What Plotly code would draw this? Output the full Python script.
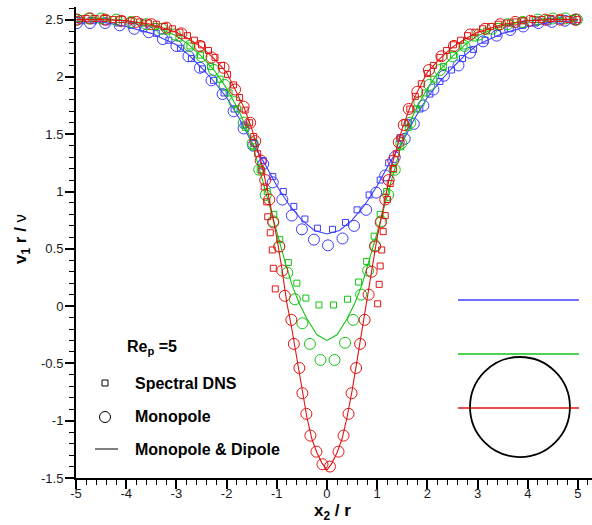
import plotly.graph_objects as go

# ---------------------------------------------------------------------------
# Axial velocity v1 r / nu along lines x2 / r, Re_p = 5
# blue: line far above the particle, green: tangent line, red: through centre
# ---------------------------------------------------------------------------

# Spectral DNS (squares)
blue_dns_x = [-4.90, -4.65, -4.40, -4.15, -3.90, -3.65, -3.40, -3.15, -2.92, -2.70,
              -2.48, -2.26, -2.05, -1.85, -1.65, -1.45, -1.27, -1.08, -0.87, -0.66,
              -0.44, -0.19, 0.11, 0.37, 0.60, 0.84, 1.06, 1.23, 1.45, 1.62,
              1.85, 2.05, 2.25, 2.48, 2.70, 2.92, 3.15, 3.40, 3.65, 3.90,
              4.15, 4.40, 4.65, 4.90]
blue_dns_y = [2.49, 2.49, 2.48, 2.47, 2.45, 2.42, 2.38, 2.32, 2.25, 2.16,
              2.07, 1.97, 1.86, 1.72, 1.58, 1.42, 1.27, 1.13, 1.00, 0.87,
              0.76, 0.68, 0.67, 0.73, 0.84, 0.97, 1.10, 1.25, 1.46, 1.60,
              1.72, 1.85, 1.96, 2.06, 2.16, 2.24, 2.32, 2.38, 2.42, 2.45,
              2.47, 2.48, 2.49, 2.49]

green_dns_x = [-4.90, -4.65, -4.40, -4.15, -3.90, -3.66, -3.42, -3.18, -2.95, -2.73,
               -2.52, -2.32, -2.13, -1.95, -1.78, -1.62, -1.47, -1.33, -1.19, -1.06,
               -0.94, -0.77, -0.60, -0.42, -0.16, 0.13, 0.41, 0.63, 0.79, 0.94,
               1.06, 1.19, 1.33, 1.47, 1.62, 1.78, 1.95, 2.13, 2.32, 2.52,
               2.73, 2.95, 3.18, 3.42, 3.66, 3.90, 4.15, 4.40, 4.65, 4.90]
green_dns_y = [2.51, 2.51, 2.51, 2.50, 2.49, 2.47, 2.44, 2.40, 2.34, 2.27,
               2.19, 2.09, 1.98, 1.86, 1.72, 1.56, 1.39, 1.19, 1.00, 0.80,
               0.58, 0.38, 0.20, 0.07, 0.01, 0.01, 0.06, 0.21, 0.39, 0.61,
               0.80, 1.00, 1.19, 1.39, 1.56, 1.72, 1.86, 1.98, 2.09, 2.19,
               2.27, 2.34, 2.40, 2.44, 2.47, 2.49, 2.50, 2.51, 2.51, 2.51]

red_dns_x = [-4.98, -4.80, -4.62, -4.44, -4.26, -4.08, -3.90, -3.73, -3.56, -3.40,
             -3.24, -3.08, -2.93, -2.78, -2.64, -2.50, -2.36, -2.23, -2.10, -1.98,
             -1.86, -1.74, -1.63, -1.54, -1.46, -1.38, -1.30, -1.25, -1.20, -1.18,
             -1.13, -1.09, -1.07, -1.03,
             1.01, 1.04, 1.06, 1.09, 1.12, 1.16, 1.20, 1.26, 1.32, 1.38,
             1.46, 1.55, 1.65, 1.76, 1.88, 2.00, 2.12, 2.25, 2.38, 2.52,
             2.66, 2.80, 2.95, 3.10, 3.26, 3.42, 3.58, 3.75, 3.92, 4.10,
             4.28, 4.46, 4.64, 4.82, 4.98]
red_dns_y = [2.50, 2.51, 2.51, 2.51, 2.50, 2.50, 2.49, 2.48, 2.47, 2.46,
             2.44, 2.42, 2.39, 2.36, 2.32, 2.28, 2.23, 2.17, 2.10, 2.02,
             1.93, 1.82, 1.71, 1.60, 1.48, 1.33, 1.18, 1.04, 0.91, 0.78,
             0.64, 0.49, 0.33, 0.15,
             0.02, 0.19, 0.35, 0.49, 0.65, 0.79, 0.93, 1.07, 1.20, 1.33,
             1.47, 1.60, 1.72, 1.83, 1.94, 2.03, 2.10, 2.17, 2.23, 2.28,
             2.32, 2.36, 2.39, 2.42, 2.44, 2.46, 2.47, 2.48, 2.49, 2.50,
             2.50, 2.51, 2.51, 2.50, 2.50]

# Monopole (circles)
blue_mono_x = [-4.98, -4.72, -4.42, -4.13, -3.84, -3.55, -3.27, -3.00, -2.76, -2.53,
               -2.30, -2.08, -1.86, -1.66, -1.47, -1.27, -1.08, -0.89, -0.70, -0.50,
               -0.26, 0.02, 0.31, 0.54, 0.78, 0.98, 1.16, 1.35, 1.55, 1.73,
               1.92, 2.12, 2.33, 2.62, 2.85, 3.11, 3.38, 3.65, 3.91, 4.21,
               4.48, 4.74, 4.95]
blue_mono_y = [2.47, 2.47, 2.47, 2.45, 2.42, 2.39, 2.33, 2.27, 2.18, 2.08,
               1.97, 1.85, 1.70, 1.55, 1.40, 1.24, 1.08, 0.93, 0.79, 0.67,
               0.58, 0.53, 0.59, 0.70, 0.84, 0.99, 1.14, 1.30, 1.46, 1.59,
               1.75, 1.89, 2.01, 2.10, 2.21, 2.31, 2.36, 2.41, 2.44, 2.47,
               2.48, 2.49, 2.50]

green_mono_x = [-4.98, -4.75, -4.50, -4.20, -3.90, -3.60, -3.29, -3.03, -2.74, -2.50,
                -2.25, -2.04, -1.84, -1.66, -1.48, -1.35, -1.22, -1.07, -0.95, -0.79,
                -0.64, -0.49, -0.34, -0.13, 0.15, 0.36, 0.52, 0.68, 0.82, 0.96,
                1.08, 1.22, 1.35, 1.48, 1.66, 1.84, 2.04, 2.25, 2.50, 2.74,
                3.03, 3.29, 3.60, 3.90, 4.20, 4.50, 4.75, 4.98]
green_mono_y = [2.50, 2.51, 2.51, 2.50, 2.48, 2.46, 2.42, 2.37, 2.27, 2.18,
                2.06, 1.93, 1.78, 1.60, 1.42, 1.19, 0.97, 0.74, 0.52, 0.29,
                0.06, -0.15, -0.33, -0.47, -0.47, -0.32, -0.12, 0.10, 0.31, 0.53,
                0.74, 0.97, 1.19, 1.42, 1.60, 1.78, 1.93, 2.06, 2.18, 2.27,
                2.37, 2.42, 2.46, 2.48, 2.50, 2.51, 2.51, 2.50]

red_mono_x = [-4.98, -4.72, -4.42, -4.10, -3.80, -3.50, -3.20, -2.90, -2.53, -2.30,
              -2.06, -1.83, -1.66, -1.53, -1.43, -1.32, -1.23, -1.15, -1.07, -0.95,
              -0.89, -0.84, -0.71, -0.66, -0.55, -0.49, -0.41, -0.33, -0.21, -0.09,
              0.06, 0.23, 0.33, 0.43, 0.49, 0.58, 0.66, 0.75, 0.83, 0.89,
              0.96, 1.07, 1.16, 1.23, 1.32, 1.43, 1.53, 1.63, 1.80, 2.03,
              2.28, 2.53, 2.85, 3.15, 3.45, 3.75, 4.05, 4.35, 4.65, 4.95]
red_mono_y = [2.50, 2.51, 2.50, 2.49, 2.48, 2.46, 2.43, 2.38, 2.27, 2.17,
              2.08, 1.89, 1.74, 1.60, 1.44, 1.27, 1.10, 0.93, 0.73, 0.52,
              0.31, 0.09, -0.12, -0.33, -0.54, -0.76, -0.94, -1.13, -1.27, -1.38,
              -1.40, -1.27, -1.13, -0.94, -0.76, -0.54, -0.33, -0.12, 0.10, 0.30,
              0.52, 0.73, 0.93, 1.10, 1.27, 1.43, 1.58, 1.72, 1.87, 2.06,
              2.18, 2.27, 2.37, 2.42, 2.46, 2.48, 2.49, 2.50, 2.50, 2.50]

# Monopole & Dipole (solid lines)
blue_md_x = [-5.0, -4.5, -4.0, -3.5, -3.0, -2.75, -2.5, -2.25, -2.0, -1.75,
             -1.5, -1.25, -1.0, -0.75, -0.5, -0.25, 0.0,
             0.25, 0.5, 0.75, 1.0, 1.25, 1.5, 1.75, 2.0, 2.25, 2.5,
             2.75, 3.0, 3.5, 4.0, 4.5, 5.0]
blue_md_y = [2.48, 2.48, 2.44, 2.38, 2.28, 2.19, 2.08, 1.96, 1.82, 1.64,
             1.43, 1.25, 1.05, 0.88, 0.75, 0.66, 0.63,
             0.66, 0.75, 0.88, 1.05, 1.25, 1.43, 1.64, 1.82, 1.96, 2.08,
             2.19, 2.28, 2.38, 2.44, 2.48, 2.49]

green_md_x = [-5.0, -4.5, -4.0, -3.5, -3.0, -2.75, -2.5, -2.25, -2.0, -1.75,
              -1.5, -1.35, -1.22, -1.1, -1.0, -0.85, -0.7, -0.55, -0.4, -0.2,
              0.0,
              0.2, 0.4, 0.55, 0.7, 0.85, 1.0, 1.1, 1.22, 1.35, 1.5,
              1.75, 2.0, 2.25, 2.5, 2.75, 3.0, 3.5, 4.0, 4.5, 5.0]
green_md_y = [2.50, 2.51, 2.49, 2.45, 2.36, 2.28, 2.18, 2.06, 1.90, 1.70,
              1.44, 1.20, 0.99, 0.80, 0.64, 0.41, 0.19, 0.02, -0.11, -0.25,
              -0.30,
              -0.25, -0.11, 0.02, 0.19, 0.41, 0.64, 0.80, 0.99, 1.20, 1.44,
              1.70, 1.90, 2.06, 2.18, 2.28, 2.36, 2.45, 2.49, 2.51, 2.50]

red_md_x = [-5.0, -4.5, -4.0, -3.5, -3.0, -2.75, -2.5, -2.25, -2.0, -1.8,
            -1.65, -1.5, -1.4, -1.3, -1.2, -1.1, -1.0, -0.9, -0.8, -0.7,
            -0.6, -0.5, -0.4, -0.3, -0.2, -0.1, 0.0,
            0.1, 0.2, 0.3, 0.4, 0.5, 0.6, 0.7, 0.8, 0.9, 1.0,
            1.1, 1.2, 1.3, 1.4, 1.5, 1.65, 1.8, 2.0, 2.25, 2.5,
            2.75, 3.0, 3.5, 4.0, 4.5, 5.0]
red_md_y = [2.50, 2.50, 2.49, 2.46, 2.39, 2.33, 2.26, 2.16, 2.04, 1.87,
            1.73, 1.55, 1.40, 1.24, 1.04, 0.81, 0.60, 0.33, 0.03, -0.20,
            -0.47, -0.74, -0.97, -1.16, -1.28, -1.37, -1.43,
            -1.37, -1.28, -1.16, -0.97, -0.74, -0.47, -0.20, 0.03, 0.33, 0.60,
            0.81, 1.04, 1.24, 1.40, 1.55, 1.73, 1.87, 2.04, 2.16, 2.26,
            2.33, 2.39, 2.46, 2.49, 2.50, 2.50]

# Axis ticks
x_tick_vals = [-5, -4, -3, -2, -1, 0, 1, 2, 3, 4, 5]
x_tick_text = ["-5", "-4", "-3", "-2", "-1", "0", "1", "2", "3", "4", "5"]
y_tick_vals = [-1.5, -1, -0.5, 0, 0.5, 1, 1.5, 2, 2.5]
y_tick_text = ["-1.5", "-1", "-0.5", "0", "0.5", "1", "1.5", "2", "2.5"]

# Styling
BLUE = "rgb(60,60,255)"
GREEN = "rgb(20,195,20)"
RED = "rgb(225,20,20)"
FONT = "Liberation Sans, Arial, Helvetica, sans-serif"

W, H = 592, 525
M_L, M_R, M_T, M_B = 76, 0, 7, 47
PW, PH = W - M_L - M_R, H - M_T - M_B


def px(xp):
    """pixel column -> paper x"""
    return (xp - M_L) / PW


def py(yp):
    """pixel row -> paper y"""
    return (H - M_B - yp) / PH


fig = go.Figure()

series = [
    (BLUE, blue_dns_x, blue_dns_y, blue_mono_x, blue_mono_y, blue_md_x, blue_md_y),
    (GREEN, green_dns_x, green_dns_y, green_mono_x, green_mono_y, green_md_x, green_md_y),
    (RED, red_dns_x, red_dns_y, red_mono_x, red_mono_y, red_md_x, red_md_y),
]

for color, dx, dy, mx, my, lx, ly in series:
    fig.add_trace(go.Scatter(
        x=lx, y=ly, mode="lines",
        line=dict(color=color, width=1.1),
        showlegend=False, hoverinfo="skip"))
    fig.add_trace(go.Scatter(
        x=dx, y=dy, mode="markers",
        marker=dict(symbol="square-open", size=6, color=color,
                    line=dict(color=color, width=1)),
        showlegend=False, hoverinfo="skip"))
    fig.add_trace(go.Scatter(
        x=mx, y=my, mode="markers",
        marker=dict(symbol="circle-open", size=11, color=color,
                    line=dict(color=color, width=1)),
        showlegend=False, hoverinfo="skip"))

shapes = []

# Sketch of the particle and the three sampling lines
sketch_x0, sketch_x1 = 2.61, 5.02
for color, yl in [(BLUE, 0.053), (GREEN, -0.418), (RED, -0.889)]:
    shapes.append(dict(type="line", xref="x", yref="y",
                       x0=sketch_x0, x1=sketch_x1, y0=yl, y1=yl,
                       line=dict(color=color, width=1.5)))
shapes.append(dict(type="circle", xref="x", yref="y",
                   x0=2.85, x1=4.84, y0=-1.317, y1=-0.444,
                   line=dict(color="black", width=1.8)))

# Key symbols
shapes.append(dict(type="rect", xref="paper", yref="paper",
                   x0=px(102), x1=px(108), y0=py(386), y1=py(380),
                   line=dict(color="black", width=1)))
shapes.append(dict(type="circle", xref="paper", yref="paper",
                   x0=px(99.5), x1=px(110.5), y0=py(422.5), y1=py(411.5),
                   line=dict(color="black", width=1)))
shapes.append(dict(type="line", xref="paper", yref="paper",
                   x0=px(95), x1=px(118), y0=py(449), y1=py(449),
                   line=dict(color="black", width=1)))

annotations = []
key_font = dict(family=FONT, size=16, color="black")
for text, xl, yc in [("<b>Re<sub>p</sub> =5</b>", 125, 347),
                     ("<b>Spectral DNS</b>", 133, 383),
                     ("<b>Monopole</b>", 133, 416),
                     ("<b>Monopole &amp; Dipole</b>", 133, 449)]:
    annotations.append(dict(text=text, xref="paper", yref="paper",
                            x=px(xl), y=py(yc), xanchor="left", yanchor="middle",
                            showarrow=False, font=key_font))

# Axis titles
title_font = dict(family=FONT, size=17, color="black")
annotations.append(dict(text="<b>x<sub>2</sub> / r</b>", xref="paper", yref="paper",
                        x=px(332), y=py(512), xanchor="center", yanchor="middle",
                        showarrow=False, font=title_font))
annotations.append(dict(text="<b>v<sub>1</sub> r / </b>ν", xref="paper", yref="paper",
                        x=px(22), y=py(239), xanchor="center", yanchor="middle",
                        textangle=-90, showarrow=False, font=title_font))

axis_common = dict(
    showgrid=False, zeroline=False,
    showline=True, linecolor="black", linewidth=2, mirror=False,
    ticks="outside", tickcolor="black", tickwidth=2,
    tickfont=dict(family=FONT, size=13, color="#1a1a1a"),
    tickmode="array",
)

fig.update_layout(
    width=W, height=H,
    margin=dict(l=M_L, r=M_R, t=M_T, b=M_B, pad=0),
    paper_bgcolor="white", plot_bgcolor="white",
    showlegend=False,
    xaxis=dict(axis_common, range=[-5, 5.28], tickvals=x_tick_vals, ticktext=x_tick_text,
               ticklen=9, ticklabelstandoff=-7,
               minor=dict(tickmode="linear", tick0=0, dtick=0.2, ticks="outside",
                          ticklen=5, tickwidth=1, tickcolor="black")),
    yaxis=dict(axis_common, range=[-1.5, 2.61], tickvals=y_tick_vals, ticktext=y_tick_text,
               ticklen=9, ticklabelstandoff=-1,
               minor=dict(tickmode="linear", tick0=0, dtick=0.1, ticks="outside",
                          ticklen=5, tickwidth=1, tickcolor="black")),
    shapes=shapes,
    annotations=annotations,
)

fig.write_html("out.html")
